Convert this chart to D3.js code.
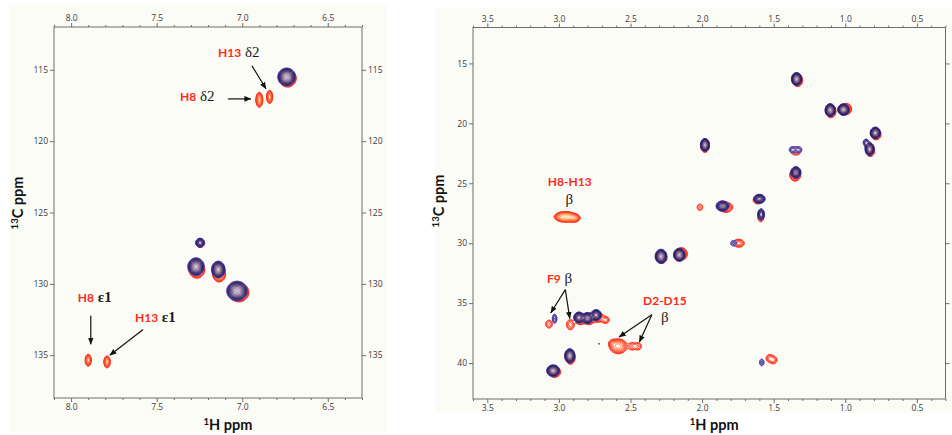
<!DOCTYPE html>
<html>
<head>
<meta charset="utf-8">
<script src="https://cdn.jsdelivr.net/npm/d3@7"></script>
<style>
  html, body { margin: 0; padding: 0; background: #ffffff; }
  svg { display: block; }
  .tick text { font-family: "Open Sans", "DejaVu Sans", sans-serif; font-size: 8.5px; fill: #3a3a3a; }
  .axis line { stroke: #6d6d6d; stroke-width: 1; }
  .axis path { display: none; }
</style>
</head>
<body>
<svg id="fig" width="952" height="435"></svg>
<script>
// ---------- tick labels ----------
const aroXTicks = [8.0, 7.5, 7.0, 6.5];
const aroYTicks = [115, 120, 125, 130, 135];
const aliXTicks = [3.5, 3.0, 2.5, 2.0, 1.5, 1.0, 0.5];
const aliYTicks = [15, 20, 25, 30, 35, 40];

// ---------- cross peaks: [1H ppm, 13C ppm, sigma 1H (ppm), sigma 13C (ppm), height] ----------
// aromatic region, reference spectrum (dark)
const aroBlue = [
  [6.740, 115.50, 0.0200, 0.240, 30],
  [7.246, 127.12, 0.0130, 0.157, 8],
  [7.270, 128.80, 0.0190, 0.246, 25],
  [7.140, 129.00, 0.0156, 0.232, 25],
  [7.030, 130.50, 0.0233, 0.263, 30]
];
// aromatic region, second spectrum (red)
const aroRed = [
  [6.735, 115.60, 0.0200, 0.240, 25],
  [7.245, 127.15, 0.0130, 0.157, 6],
  [7.265, 129.00, 0.0190, 0.246, 20],
  [7.135, 129.30, 0.0156, 0.232, 20],
  [7.020, 130.60, 0.0233, 0.263, 25],
  [6.900, 117.10, 0.0095, 0.245, 10],
  [6.840, 116.90, 0.0088, 0.225, 8],
  [7.900, 135.35, 0.0088, 0.205, 8],
  [7.790, 135.47, 0.0092, 0.205, 8]
];
// aliphatic region, reference spectrum (dark)
const aliBlue = [
  [1.340, 16.30, 0.0143, 0.215, 25],
  [1.105, 18.90, 0.0143, 0.215, 25],
  [1.012, 18.85, 0.0161, 0.192, 25],
  [0.790, 20.80, 0.0148, 0.200, 20],
  [0.830, 22.15, 0.0130, 0.221, 20],
  [0.855, 21.60, 0.0136, 0.196, 3],
  [1.980, 21.80, 0.0125, 0.215, 25],
  [1.370, 22.20, 0.0172, 0.207, 2.2],
  [1.325, 22.20, 0.0172, 0.207, 2.2],
  [1.345, 24.10, 0.0162, 0.220, 12],
  [1.600, 26.30, 0.0190, 0.177, 10],
  [1.588, 27.60, 0.0127, 0.253, 6],
  [1.857, 26.90, 0.0204, 0.195, 12],
  [1.780, 30.00, 0.0184, 0.196, 2],
  [2.287, 31.10, 0.0161, 0.235, 25],
  [2.159, 30.97, 0.0161, 0.215, 25],
  [3.030, 36.30, 0.0120, 0.288, 2.5],
  [2.860, 36.20, 0.0160, 0.200, 14],
  [2.800, 36.25, 0.0160, 0.200, 16],
  [2.740, 36.00, 0.0160, 0.200, 14],
  [2.720, 38.40, 0.0050, 0.060, 1.4],
  [2.924, 39.40, 0.0143, 0.235, 25],
  [3.040, 40.64, 0.0179, 0.192, 25],
  [1.583, 39.95, 0.0136, 0.242, 2]
];
// aliphatic region, second spectrum (red)
const aliRed = [
  [1.333, 16.40, 0.0143, 0.215, 20],
  [1.100, 19.00, 0.0143, 0.215, 20],
  [0.995, 18.80, 0.0161, 0.192, 20],
  [0.785, 20.90, 0.0148, 0.200, 16],
  [0.825, 22.25, 0.0130, 0.221, 16],
  [1.980, 21.90, 0.0125, 0.215, 18],
  [1.345, 22.30, 0.0250, 0.240, 3],
  [1.350, 24.30, 0.0180, 0.240, 10],
  [1.610, 26.40, 0.0180, 0.170, 6],
  [1.590, 27.80, 0.0130, 0.250, 4],
  [1.835, 27.00, 0.0240, 0.210, 8],
  [2.015, 27.00, 0.0165, 0.230, 2],
  [2.955, 27.80, 0.0300, 0.170, 30],
  [2.895, 27.90, 0.0200, 0.160, 10],
  [1.745, 30.00, 0.0240, 0.200, 4],
  [2.145, 30.90, 0.0170, 0.215, 20],
  [2.280, 31.20, 0.0155, 0.215, 12],
  [3.069, 36.75, 0.0175, 0.245, 2.5],
  [2.920, 36.80, 0.0185, 0.285, 3],
  [2.850, 36.35, 0.0190, 0.220, 8],
  [2.790, 36.35, 0.0190, 0.220, 8],
  [2.730, 36.15, 0.0190, 0.220, 8],
  [2.675, 36.40, 0.0180, 0.200, 3],
  [2.585, 38.60, 0.0290, 0.290, 10],
  [2.625, 38.35, 0.0170, 0.180, 2.5],
  [2.490, 38.60, 0.0170, 0.225, 2.5],
  [2.447, 38.60, 0.0170, 0.225, 2.5],
  [1.530, 39.60, 0.0170, 0.225, 2.5],
  [1.500, 39.75, 0.0170, 0.225, 2.5],
  [2.920, 39.55, 0.0143, 0.235, 15],
  [3.030, 40.75, 0.0179, 0.192, 15]
];

// ---------- assignments (label anchor and arrows in ppm) ----------
const aroNotes = [
  { res: "H13", atom: "δ2", at: [7.141, 114.12], arrows: [[6.943, 114.72, 6.861, 116.33]] },
  { res: "H8",  atom: "δ2", at: [7.364, 117.20], arrows: [[7.084, 117.04, 6.949, 117.04]] },
  { res: "H8",  atom: "ε1", at: [7.961, 131.30], arrows: [[7.885, 132.24, 7.885, 134.23]] },
  { res: "H13", atom: "ε1", at: [7.627, 132.65], arrows: [[7.579, 133.20, 7.774, 135.00]] }
];
const aliNotes = [
  { res: "H8-H13", atom: "β", at: [2.924, 25.20], atomAt: [2.928, 26.75], arrows: [] },
  { res: "F9", atom: "β", at: [3.084, 33.30], arrows: [[2.955, 33.87, 3.057, 35.82], [2.955, 33.87, 2.924, 36.29]] },
  { res: "D2-D15", atom: "β", at: [2.260, 35.14], atomAt: [2.260, 36.55], arrows: [[2.351, 35.96, 2.580, 37.83], [2.351, 35.96, 2.438, 38.25]] }
];

// ---------- drawing ----------
const svg = d3.select("#fig");
const defs = svg.append("defs");
defs.append("marker")
  .attr("id", "head").attr("viewBox", "0 -4 8 8")
  .attr("refX", 7.5).attr("refY", 0)
  .attr("markerWidth", 7).attr("markerHeight", 7)
  .attr("markerUnits", "userSpaceOnUse")
  .attr("orient", "auto")
  .append("path").attr("d", "M0,-3.2L8,0L0,3.2Z").attr("fill", "#111");

// soft cream backdrop behind each panel
svg.append("rect").attr("x", 10).attr("y", 5).attr("width", 377).attr("height", 428).attr("fill", "#fcfcf7");
svg.append("rect").attr("x", 435).attr("y", 8).attr("width", 517).attr("height", 405).attr("fill", "#fcfcf7");

const LEVELS = d3.range(13).map(k => Math.pow(1.35, k));
const redRamp = d3.interpolateRgbBasis(["#ff2010", "#ff3418", "#ff6a2e", "#ffa45c", "#ffe4b4"]);
const blueRamp = d3.interpolateRgbBasis(["#4a3ab0", "#2a1a68", "#2a1954", "#4e3466", "#86687e", "#c4a8a4"]);

function field(x, y, peaks, step) {
  const [xa, xb] = x.range(), [ya, yb] = y.range();
  const nx = Math.ceil((xb - xa) / step) + 1, ny = Math.ceil((yb - ya) / step) + 1;
  const v = new Float64Array(nx * ny);
  const hs = d3.range(nx).map(i => x.invert(xa + i * step));
  const cs = d3.range(ny).map(j => y.invert(ya + j * step));
  for (const [h, c, sh, sc, a] of peaks) {
    const px1 = x(h + 5 * sh), px2 = x(h - 5 * sh);
    const py1 = y(c - 5 * sc), py2 = y(c + 5 * sc);
    const i0 = Math.max(0, Math.floor((Math.min(px1, px2) - xa) / step));
    const i1 = Math.min(nx - 1, Math.ceil((Math.max(px1, px2) - xa) / step));
    const j0 = Math.max(0, Math.floor((Math.min(py1, py2) - ya) / step));
    const j1 = Math.min(ny - 1, Math.ceil((Math.max(py1, py2) - ya) / step));
    for (let j = j0; j <= j1; j++) {
      const dc = (cs[j] - c) / sc;
      const ec = a * Math.exp(-0.5 * dc * dc);
      for (let i = i0; i <= i1; i++) {
        const dh = (hs[i] - h) / sh;
        v[j * nx + i] += ec * Math.exp(-0.5 * dh * dh);
      }
    }
  }
  return { v, nx, ny, xa, ya };
}

function drawSpectrum(g, x, y, peaks, ramp, lowFill) {
  const step = 0.5;
  const f = field(x, y, peaks, step);
  const sets = d3.contours().size([f.nx, f.ny]).thresholds(LEVELS)(f.v);
  const path = d3.geoPath(d3.geoTransform({
    point(px, py) { this.stream.point(f.xa + (px - 0.5) * step, f.ya + (py - 0.5) * step); }
  }));
  const n = LEVELS.length - 1;
  g.selectAll(null).data(sets).join("path")
    .attr("d", path)
    .attr("fill", (d, k) => (k === 0 && lowFill) ? lowFill : "none")
    .attr("stroke", (d, k) => ramp(k / n))
    .attr("stroke-width", 1)
    .attr("stroke-linejoin", "round");
}

function panel(cfg) {
  const { xDom, yDom, xRange, yRange, xTicks, yTicks, blue, red, notes, id } = cfg;
  const x = d3.scaleLinear().domain(xDom).range(xRange);
  const y = d3.scaleLinear().domain(yDom).range(yRange);
  const g = svg.append("g");
  const [x0, x1] = xRange, [y0, y1] = yRange;

  defs.append("clipPath").attr("id", "clip-" + id)
    .append("rect").attr("x", x0).attr("y", y0).attr("width", x1 - x0).attr("height", y1 - y0);

  const plot = g.append("g").attr("clip-path", `url(#clip-${id})`);
  drawSpectrum(plot.append("g"), x, y, red, redRamp, null);
  drawSpectrum(plot.append("g"), x, y, blue, blueRamp, "#cfc8ea");

  // minor ticks every 0.1 ppm along 1H
  const lo = Math.min(...xDom), hi = Math.max(...xDom);
  const minor = d3.range(Math.ceil(lo * 10), Math.floor(hi * 10) + 1).map(k => k / 10)
    .filter(v => !xTicks.some(t => Math.abs(t - v) < 1e-6));
  const fmt = d3.format(".1f");

  g.append("g").attr("class", "axis").attr("transform", `translate(0,${y1})`)
    .call(d3.axisBottom(x).tickValues(xTicks).tickFormat(fmt).tickSize(4).tickPadding(2));
  g.append("g").attr("class", "axis").attr("transform", `translate(0,${y1})`)
    .call(d3.axisBottom(x).tickValues(minor).tickFormat("").tickSize(2));
  g.append("g").attr("class", "axis").attr("transform", `translate(0,${y0})`)
    .call(d3.axisTop(x).tickValues(xTicks).tickFormat(fmt).tickSize(4).tickPadding(2));
  g.append("g").attr("class", "axis").attr("transform", `translate(0,${y0})`)
    .call(d3.axisTop(x).tickValues(minor).tickFormat("").tickSize(2));
  g.append("g").attr("class", "axis").attr("transform", `translate(${x0},0)`)
    .call(d3.axisLeft(y).tickValues(yTicks).tickFormat(d3.format("d")).tickSize(4).tickPadding(2));
  g.append("g").attr("class", "axis").attr("transform", `translate(${x1},0)`)
    .call(d3.axisRight(y).tickValues(yTicks)
      .tickFormat(cfg.rightLabels ? d3.format("d") : "").tickSize(4).tickPadding(2));

  g.append("rect").attr("x", x0).attr("y", y0).attr("width", x1 - x0).attr("height", y1 - y0)
    .attr("fill", "none").attr("stroke", "#6d6d6d").attr("stroke-width", 1);

  // axis titles
  const xt = g.append("text").attr("x", (x0 + x1) / 2 + cfg.xTitleDx).attr("y", 430)
    .attr("text-anchor", "middle")
    .style("font-family", "Lato, 'Open Sans', sans-serif").style("font-weight", "bold")
    .style("font-size", "14.5px").attr("fill", "#111");
  xt.append("tspan").text("1").style("font-size", "9.5px").attr("dy", "-5");
  xt.append("tspan").text("H ppm").attr("dy", "5");

  const yt = g.append("text")
    .attr("transform", `translate(${cfg.yTitleX},${cfg.yTitleY}) rotate(-90)`)
    .attr("text-anchor", "middle")
    .style("font-family", "Lato, 'Open Sans', sans-serif").style("font-weight", "bold")
    .style("font-size", "14.5px").attr("fill", "#111");
  yt.append("tspan").text("13").style("font-size", "9.5px").attr("dy", "-5");
  yt.append("tspan").text("C ppm").attr("dy", "5");

  // assignments
  const ann = g.append("g");
  notes.forEach(n => {
    n.arrows.forEach(([h1, c1, h2, c2]) => {
      ann.append("line")
        .attr("x1", x(h1)).attr("y1", y(c1)).attr("x2", x(h2)).attr("y2", y(c2))
        .attr("stroke", "#111").attr("stroke-width", 1.2)
        .attr("marker-end", "url(#head)");
    });
    if (n.atomAt) {
      ann.append("text").attr("x", x(n.at[0])).attr("y", y(n.at[1]))
        .attr("text-anchor", "middle")
        .style("font-family", "Lato, 'Open Sans', sans-serif").style("font-weight", "bold")
        .style("font-size", "12px").attr("fill", "#ff2a1a").text(n.res);
      ann.append("text").attr("x", x(n.atomAt[0])).attr("y", y(n.atomAt[1]))
        .attr("text-anchor", "middle")
        .style("font-family", "'Liberation Serif', serif")
        .style("font-size", "15px").attr("fill", "#1a1a1a").text(n.atom);
    } else {
      const t = ann.append("text").attr("x", x(n.at[0])).attr("y", y(n.at[1]));
      t.append("tspan").text(n.res)
        .style("font-family", "Lato, 'Open Sans', sans-serif").style("font-weight", "bold")
        .style("font-size", "12px").attr("fill", "#ff2a1a");
      t.append("tspan").text(" " + n.atom)
        .style("font-family", "'Liberation Serif', serif")
        .style("font-weight", n.atom === "ε1" ? "bold" : "normal")
        .style("font-size", "15px").attr("fill", "#1a1a1a");
    }
  });
}

panel({
  id: "aro", xDom: [8.1, 6.3], yDom: [112, 138], xRange: [54, 362], yRange: [27, 398],
  xTicks: aroXTicks, yTicks: aroYTicks, blue: aroBlue, red: aroRed, notes: aroNotes,
  xTitleDx: 20, yTitleX: 23, yTitleY: 203, rightLabels: true
});
panel({
  id: "ali", xDom: [3.6, 0.3], yDom: [12, 43], xRange: [473, 945.5], yRange: [27.5, 399],
  xTicks: aliXTicks, yTicks: aliYTicks, blue: aliBlue, red: aliRed, notes: aliNotes,
  xTitleDx: 5, yTitleX: 444, yTitleY: 201, rightLabels: false
});
</script>
</body>
</html>
